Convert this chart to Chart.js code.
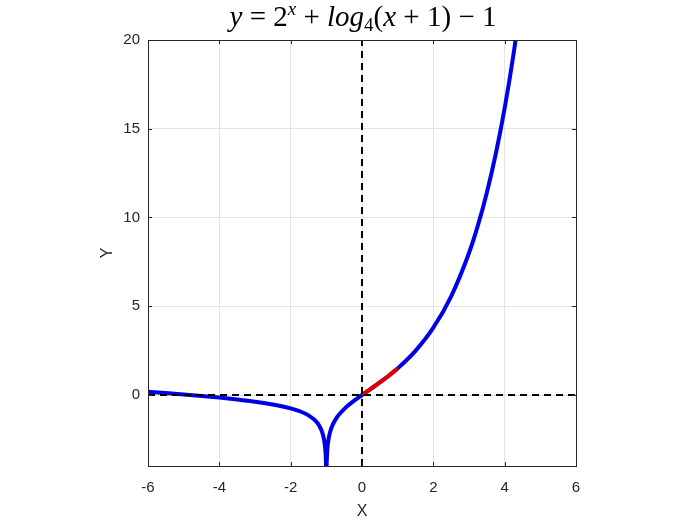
<!DOCTYPE html>
<html>
<head>
<meta charset="utf-8">
<script src="https://cdn.jsdelivr.net/npm/chart.js@4"></script>
<style>
  html, body { margin: 0; padding: 0; background: #fff; }
  #wrap { width: 700px; height: 525px; }
</style>
</head>
<body>
<div id="wrap"><canvas id="chart" width="700" height="525"></canvas></div>
<script>
// curve points (x, y); null splits the curve at the asymptote x = -1
const curveX = [-6, -5.5, -5, -4.5, -4, -3.5, -3, -2.5, -2, -1.75, -1.5, -1.3, -1.2, -1.1, -1.05, -1.02, -1.01, -1.005, -1,
  -0.995, -0.99, -0.98, -0.95, -0.9, -0.8, -0.7, -0.6, -0.5, -0.4, -0.3, -0.2, -0.1, 0,
  0.25, 0.5, 0.75, 1, 1.5, 2, 2.5, 3, 3.25, 3.5, 3.75, 4, 4.25, 4.5];
const curveY = [0.177, 0.107, 0.031, -0.052, -0.145, -0.251, -0.375, -0.531, -0.75, -0.91, -1.146, -1.462, -1.726, -2.195, -2.678, -3.329, -3.825, -4.324, null,
  -4.32, -3.819, -3.315, -2.643, -2.125, -1.587, -1.253, -1.001, -0.793, -0.611, -0.445, -0.29, -0.143, 0,
  0.35, 0.707, 1.085, 1.5, 2.489, 3.792, 5.56, 8, 9.557, 11.399, 13.578, 16.161, 19.223, 22.857];

// highlighted piece between x = 0 and x = 1
const redX = [0, 0.25, 0.5, 0.75, 1];
const redY = [0, 0.35, 0.707, 1.085, 1.5];

// dashed axes lines
const hLineX = [-6, 6];
const hLineY = [0, 0];
const vLineX = [0, 0];
const vLineY = [-4, 20];

const xTicks = [-6, -4, -2, 0, 2, 4, 6];
const yTicks = [0, 5, 10, 15, 20];

function toPoints(xs, ys) {
  return xs.map((x, i) => ({ x: x, y: ys[i] }));
}

const tickFont = { family: "Liberation Sans, Arial, sans-serif", size: 15 };

// box around the plot + small inside ticks, like the original
const boxPlugin = {
  id: "box",
  afterDatasetsDraw(chart) {
    const { ctx, chartArea: a, scales } = chart;
    ctx.save();
    ctx.strokeStyle = "#262626";
    ctx.lineWidth = 1;
    ctx.beginPath();
    xTicks.forEach((t) => {
      const px = Math.round(scales.x.getPixelForValue(t)) + 0.5;
      ctx.moveTo(px, a.bottom); ctx.lineTo(px, a.bottom - 4);
      ctx.moveTo(px, a.top); ctx.lineTo(px, a.top + 4);
    });
    yTicks.forEach((t) => {
      const py = Math.round(scales.y.getPixelForValue(t)) + 0.5;
      ctx.moveTo(a.left, py); ctx.lineTo(a.left + 4, py);
      ctx.moveTo(a.right, py); ctx.lineTo(a.right - 4, py);
    });
    ctx.stroke();
    ctx.strokeRect(Math.round(a.left) + 0.5, Math.round(a.top) + 0.5, Math.round(a.right - a.left), Math.round(a.bottom - a.top));
    ctx.restore();
  }
};

// title with superscript / subscript, drawn in pieces
const titlePlugin = {
  id: "mathTitle",
  afterDraw(chart) {
    const ctx = chart.ctx;
    const big = 29, small = 19;
    const serif = "'Liberation Serif', 'DejaVu Serif', serif";
    const parts = [
      ["y", "italic", big, 0],
      [" = ", "normal", big, 0],
      ["2", "normal", big, 0],
      ["x", "italic", small, -11],
      [" + ", "normal", big, 0],
      ["log", "italic", big, 0],
      ["4", "normal", small, 5],
      ["(", "normal", big, 0],
      ["x", "italic", big, 0],
      [" + ", "normal", big, 0],
      ["1", "normal", big, 0],
      [")", "normal", big, 0],
      [" \u2212 ", "normal", big, 0],
      ["1", "normal", big, 0]
    ];
    ctx.save();
    ctx.fillStyle = "#000";
    ctx.textBaseline = "alphabetic";
    let total = 0;
    parts.forEach((p) => {
      ctx.font = p[1] + " " + p[2] + "px " + serif;
      total += ctx.measureText(p[0]).width;
    });
    let x = 363 - total / 2;
    const base = 26;
    parts.forEach((p) => {
      ctx.font = p[1] + " " + p[2] + "px " + serif;
      ctx.fillText(p[0], x, base + p[3]);
      x += ctx.measureText(p[0]).width;
    });
    ctx.restore();
  }
};

const ctx = document.getElementById("chart").getContext("2d");
new Chart(ctx, {
  type: "line",
  data: {
    datasets: [
      {
        data: toPoints(hLineX, hLineY),
        borderColor: "#000",
        borderWidth: 2,
        borderDash: [7, 5],
        pointRadius: 0,
        order: 1
      },
      {
        data: toPoints(vLineX, vLineY),
        borderColor: "#000",
        borderWidth: 2,
        borderDash: [7, 5],
        pointRadius: 0,
        order: 1
      },
      {
        data: toPoints(curveX, curveY),
        borderColor: "#0000e6",
        borderWidth: 4,
        pointRadius: 0,
        cubicInterpolationMode: "monotone",
        spanGaps: false,
        order: 3
      },
      {
        data: toPoints(redX, redY),
        borderColor: "#e00000",
        borderWidth: 4,
        pointRadius: 0,
        cubicInterpolationMode: "monotone",
        order: 2
      }
    ]
  },
  options: {
    responsive: false,
    animation: false,
    layout: { padding: { left: 0, right: 124, top: 40, bottom: 0 } },
    plugins: {
      legend: { display: false },
      tooltip: { enabled: false }
    },
    scales: {
      x: {
        type: "linear",
        min: -6,
        max: 6,
        afterBuildTicks: (scale) => { scale.ticks = xTicks.map((v) => ({ value: v })); },
        afterFit: (scale) => { scale.height = 59; },
        grid: { color: "#e3e3e3", drawTicks: false },
        border: { display: false },
        ticks: { color: "#262626", font: tickFont, padding: 13, maxRotation: 0 },
        title: { display: true, text: "X", color: "#262626", font: { family: tickFont.family, size: 16 }, padding: { top: 0 } }
      },
      y: {
        type: "linear",
        min: -4,
        max: 20,
        afterBuildTicks: (scale) => { scale.ticks = yTicks.map((v) => ({ value: v })); },
        afterFit: (scale) => { scale.width = 148; },
        grid: { color: "#e3e3e3", drawTicks: false },
        border: { display: false },
        ticks: { color: "#262626", font: tickFont, padding: 8 },
        title: { display: true, text: "Y", color: "#262626", font: { family: tickFont.family, size: 16 }, padding: { top: 98, bottom: 0 } }
      }
    }
  },
  plugins: [boxPlugin, titlePlugin]
});
</script>
</body>
</html>
